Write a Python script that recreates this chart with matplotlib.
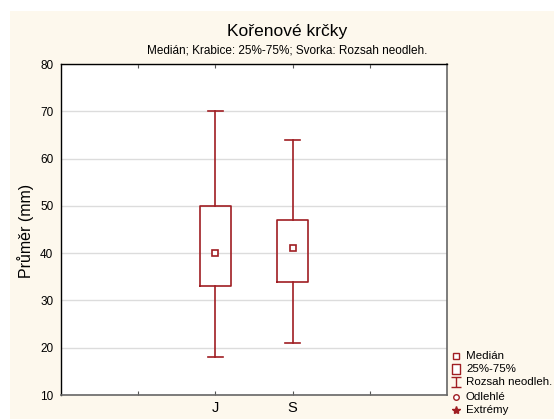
import numpy as np
import matplotlib
matplotlib.use('Agg')
import matplotlib.pyplot as plt
from matplotlib.patches import Rectangle
from matplotlib.lines import Line2D
from matplotlib.path import Path

plt.rcParams['font.family'] = ['Liberation Sans', 'DejaVu Sans']

# data
groups = ['J', 'S']
positions = [2, 3]
whis_lo = [18, 21]
q1 = [33, 34]
medians = [40, 41]
q3 = [50, 47]
whis_hi = [70, 64]

red = '#a01e23'
cream = '#fdf8ed'
W, H = 554, 419

fig = plt.figure(figsize=(W / 100, H / 100), dpi=100)
fig.patch.set_facecolor('white')
fig.add_artist(Rectangle((10 / W, 0), 1, 1 - 11 / H, transform=fig.transFigure,
                         facecolor=cream, edgecolor='none', zorder=-10))

ax = fig.add_axes([61 / W, 1 - 395 / H, 386 / W, 331 / H])
ax.set_facecolor('white')

stats = []
for i in range(len(groups)):
    stats.append(dict(med=medians[i], q1=q1[i], q3=q3[i],
                      whislo=whis_lo[i], whishi=whis_hi[i], fliers=[]))

ax.bxp(stats, positions=positions, widths=0.4, capwidths=0.2, showfliers=False,
       boxprops=dict(color=red, linewidth=1.2),
       whiskerprops=dict(color=red, linewidth=1.2),
       capprops=dict(color=red, linewidth=1.2),
       medianprops=dict(linestyle='none'), zorder=3)
ax.plot(positions, medians, 's', ms=4, mfc='white', mec=red, mew=1.2, zorder=4)

ax.set_xlim(0, 5)
ax.set_ylim(10, 80)
ax.set_yticks(np.arange(10, 81, 10))
ax.set_xticks([1, 2, 3, 4])
ax.set_xticklabels([''] + groups + [''])
ax.yaxis.grid(True, color='#dcdcdc', linewidth=1)
ax.set_axisbelow(True)
ax.tick_params(axis='y', length=0, labelsize=8.5, pad=5.5)
ax.tick_params(axis='x', direction='in', length=3, width=0.8, top=True,
               labelsize=10.5, pad=4, color='#555555')

for s in ['left', 'top']:
    ax.spines[s].set_color('black')
    ax.spines[s].set_linewidth(1)
for s in ['right', 'bottom']:
    ax.spines[s].set_color('#666666')
    ax.spines[s].set_linewidth(1.2)

fig.text(287 / W, 1 - 36 / H, 'Kořenové krčky', ha='center', va='baseline', fontsize=12.5)
fig.text(287 / W, 1 - 53.5 / H, 'Medián; Krabice: 25%-75%; Svorka: Rozsah neodleh.',
         ha='center', va='baseline', fontsize=8.5)
fig.text(26 / W, 1 - 231 / H, 'Průměr (mm)', rotation=90, ha='center', va='center',
         fontsize=11.5)

# legend, drawn by hand in pixel positions
ibar = Path([(-1, -1), (1, -1), (0, -1), (0, 1), (-1, 1), (1, 1)],
            [Path.MOVETO, Path.LINETO, Path.MOVETO, Path.LINETO, Path.MOVETO, Path.LINETO])
rect = Path([(-0.45, -0.5), (0.45, -0.5), (0.45, 0.5), (-0.45, 0.5), (-0.45, -0.5)],
            [Path.MOVETO, Path.LINETO, Path.LINETO, Path.LINETO, Path.CLOSEPOLY])
leg_labels = ['Medián', '25%-75%', 'Rozsah neodleh.', 'Odlehlé', 'Extrémy']
leg_markers = [('s', 4, 'white'), (rect, 7, 'white'), (ibar, 6.5, 'none'),
               ('o', 4, 'white'), ('*', 6, red)]
leg_y = [356, 369, 382, 397, 410]
for lab, (m, ms, fc), y in zip(leg_labels, leg_markers, leg_y):
    fig.add_artist(Line2D([456 / W], [1 - y / H], transform=fig.transFigure,
                          ls='none', marker=m, ms=ms, mfc=fc, mec=red, mew=1))
    fig.text(466 / W, 1 - y / H, lab, ha='left', va='center', fontsize=8.25)

fig.savefig('out.png', dpi=100)
